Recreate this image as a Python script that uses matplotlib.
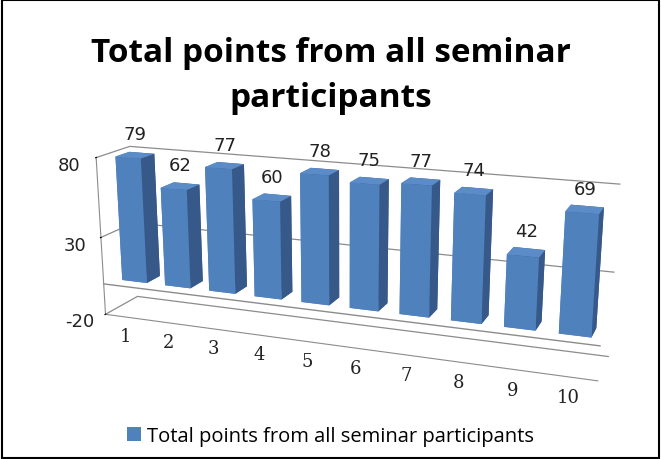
import matplotlib
matplotlib.use("Agg")
import matplotlib.pyplot as plt
import numpy as np
from matplotlib.patches import Rectangle, Patch
from mpl_toolkits.mplot3d import proj3d

categories = ["1", "2", "3", "4", "5", "6", "7", "8", "9", "10"]
values = [79, 62, 77, 60, 78, 75, 77, 74, 42, 69]
z_ticks = [-20, 30, 80]
series_name = "Total points from all seminar participants"
title = "Total points from all seminar\nparticipants"

bar_color = "#4F81BD"
side_color = "#36598A"
top_color = "#5B8CC8"
txt_color = "#222222"
grid_color = "#8c8c8c"

fig = plt.figure(figsize=(6.61, 4.60), dpi=100)
fig.patch.set_facecolor("white")
fig.patches.append(Rectangle((0.003, 0.003), 0.994, 0.994, transform=fig.transFigure,
                             fill=False, edgecolor="black", linewidth=1.5))

ax = fig.add_axes([-0.29, -0.155, 1.6, 1.17], projection="3d", proj_type="persp", focal_length=0.4)
ax.set_facecolor((1, 1, 1, 0))

n = len(values)
xs = np.arange(n, dtype=float)
bw = 0.58
bd = 0.5
y0 = 0.35
# face order in bar3d: bottom, top, front, back, left, right
face_colors = [bar_color, top_color, bar_color, side_color, bar_color, side_color] * n
ax.bar3d(xs - bw / 2, np.full(n, y0), np.zeros(n), bw, bd, values,
         color=face_colors, shade=False, edgecolor="none")

xlim = (-0.5, n - 0.5)
ax.set_xlim(*xlim)
ax.set_ylim(0, 1.2)
ax.set_zlim(z_ticks[0], z_ticks[-1])
ax.set_xticks(xs)
ax.set_xticklabels(categories, fontsize=13, color=txt_color, family="DejaVu Serif")
ax.set_yticks([])
ax.set_zticks(z_ticks)
ax.set_zticklabels([str(t) for t in z_ticks], fontsize=13, color=txt_color, family="DejaVu Sans")
ax.zaxis.set_ticks_position("lower")
ax.xaxis._axinfo["tick"]["inward_factor"] = 0.0
ax.xaxis._axinfo["tick"]["outward_factor"] = 0.0

# category axis line at value 0 on the front plane
ax.plot(xlim, [0, 0], [0, 0], color=grid_color, linewidth=1.0)

for a in (ax.xaxis, ax.yaxis, ax.zaxis):
    a.set_pane_color((1, 1, 1, 0))
    a.pane.set_edgecolor(grid_color)
    a._axinfo["grid"]["color"] = grid_color
    a._axinfo["grid"]["linewidth"] = 0.9
    a.line.set_color(grid_color)
ax.xaxis._axinfo["grid"]["color"] = (1, 1, 1, 0)
ax.yaxis._axinfo["grid"]["color"] = (1, 1, 1, 0)
ax.yaxis.line.set_color((1, 1, 1, 0))
ax.grid(True)
ax.view_init(elev=16, azim=-69)
ax.set_box_aspect((4.75, 0.6, 1.55), zoom=1.0)

for c in ax.collections:
    c.set_clip_on(False)
for l in ax.lines:
    l.set_clip_on(False)

# data labels placed in 2D from the projected bar tops
fig.canvas.draw()
M = ax.get_proj()
for i, v in enumerate(values):
    px, py, _ = proj3d.proj_transform(xs[i], y0 + bd / 2, v, M)
    disp = ax.transData.transform((px, py))
    ax.annotate(str(v), xy=disp, xycoords="figure pixels", xytext=(0, 15),
                textcoords="offset points", ha="center", va="center",
                fontsize=13, color=txt_color, family="DejaVu Sans", annotation_clip=False)

fig.text(0.5, 0.835, title, ha="center", va="center", fontsize=24, fontweight="bold",
         family="Open Sans", linespacing=1.5)

fig.legend(handles=[Patch(facecolor=bar_color, edgecolor="none")], labels=[series_name],
           loc="center", bbox_to_anchor=(0.5, 0.05), frameon=False,
           handlelength=0.7, handleheight=0.7, handletextpad=0.3,
           prop={"family": "Open Sans", "size": 14.5})

fig.savefig("out.png", dpi=100, facecolor="white")
